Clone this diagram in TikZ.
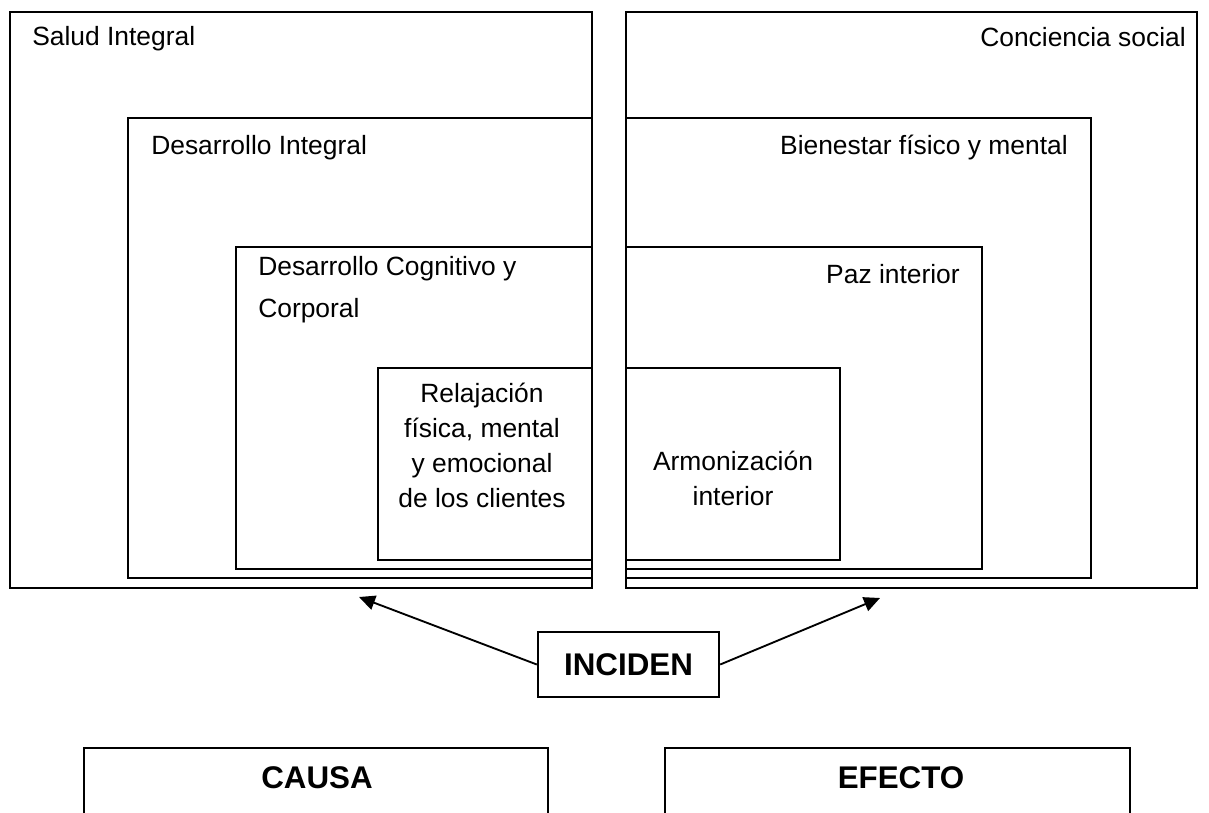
\documentclass[tikz,border=0pt]{standalone}
\usepackage{fontspec}
\setmainfont{Liberation Sans}
\usetikzlibrary{arrows.meta}
\begin{document}
\begin{tikzpicture}[x=0.75pt,y=-0.75pt,
  box/.style={draw=black, line width=1.8pt},
  lbl/.style={inner sep=0pt, font=\fontsize{19.8pt}{26.25pt}\selectfont},
  big/.style={inner sep=0pt, font=\fontsize{23.5pt}{28pt}\selectfont\bfseries},
  arr/.style={line width=1.4pt, -{Triangle[length=12pt,width=11pt]}}]
\clip (0,0) rectangle (1209,813);
% left nested boxes
\draw[box] (10,12) rectangle (592,588);
\draw[box] (128,118) rectangle (592,578);
\draw[box] (236,247) rectangle (592,569);
\draw[box] (378,368) rectangle (592,560);
% right nested boxes
\draw[box] (626,12) rectangle (1197,588);
\draw[box] (626,118) rectangle (1091,578);
\draw[box] (626,247) rectangle (982,569);
\draw[box] (626,368) rectangle (840,560);
% labels
\node[lbl, anchor=base west] (salud) at (32,46) {Salud Integral};
\node[lbl, anchor=base west] (desint) at (151,155) {Desarrollo Integral};
\node[lbl, anchor=base west, align=left] (descog) at (258,317) {Desarrollo Cognitivo y\\[5.25pt]Corporal};
\node[lbl, anchor=base, align=center] (relaj) at (482,507) {Relajación\\física, mental\\y emocional\\de los clientes};
\node[lbl, anchor=base east] (conc) at (1186,47) {Conciencia social};
\node[lbl, anchor=base east] (bien) at (1068,155) {Bienestar físico y mental};
\node[lbl, anchor=base east] (paz) at (960,283) {Paz interior};
\node[lbl, anchor=base, align=center] (armon) at (733,505) {Armonización\\interior};
% incident box
\node[big, draw=black, line width=1.8pt, minimum width=135.75pt, minimum height=48.75pt] (inciden) at (628.5,664.5) {INCIDEN};
\coordinate (t1) at (359,597);
\coordinate (t2) at (880,598);
\draw[arr] (inciden.west) -- (t1);
\draw[arr] (inciden.east) -- (t2);
% bottom boxes
\draw[box] (84,830) -- (84,748) -- (548,748) -- (548,830);
\draw[box] (665,830) -- (665,748) -- (1130,748) -- (1130,830);
\node[big, anchor=base] (causa) at (317,788) {CAUSA};
\node[big, anchor=base] (efecto) at (901,788) {EFECTO};
\end{tikzpicture}
\end{document}
